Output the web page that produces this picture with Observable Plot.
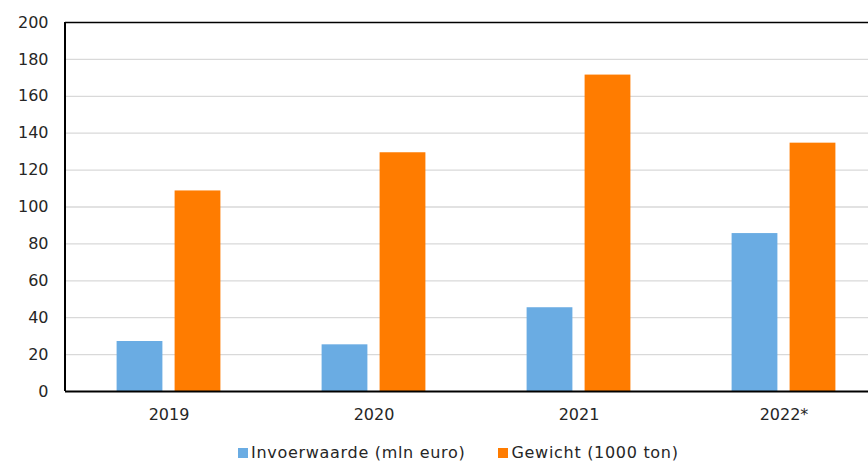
<!DOCTYPE html>
<html>
<head>
<meta charset="utf-8">
<script src="https://cdn.jsdelivr.net/npm/d3@7"></script>
<script src="https://cdn.jsdelivr.net/npm/@observablehq/plot@0.6"></script>
<style>
  html, body { margin: 0; padding: 0; background: #fff; overflow: hidden; }
  body { width: 868px; height: 463px; font-family: "DejaVu Sans", Verdana, sans-serif; }
  #legend { position: relative; height: 28px; padding-top: 4px; padding-left: 238px; display: flex; align-items: center; font-size: 16px; letter-spacing: 0.7px; color: #262626; line-height: 28px; }
  #legend .item { display: flex; align-items: center; }
  #legend .sw { width: 10px; height: 10px; margin-right: 3px; }
  #legend .item + .item { margin-left: 33px; }
</style>
</head>
<body>
<div id="chart"></div>
<div id="legend"></div>
<script>
const years = ["2019", "2020", "2021", "2022*"];
const invoerwaarde = [27.1, 25.3, 45.4, 85.6];
const gewicht = [108.7, 129.4, 171.5, 134.6];
const seriesNames = ["Invoerwaarde (mln euro)", "Gewicht (1000 ton)"];
const seriesColors = ["#6aace3", "#ff7c00"];
const yTicks = [0, 20, 40, 60, 80, 100, 120, 140, 160, 180, 200];

const blueData = years.map((y, i) => ({year: y, value: invoerwaarde[i]}));
const orangeData = years.map((y, i) => ({year: y, value: gewicht[i]}));

const W = 868, H = 435;
const leftLine = (index, scales, values, dims) => {
  const g = d3.create("svg:line")
    .attr("x1", dims.marginLeft).attr("x2", dims.marginLeft)
    .attr("y1", scales.y(200)).attr("y2", scales.y(0))
    .attr("stroke", "#000").attr("stroke-width", 2);
  return g.node();
};

const chart = Plot.plot({
  width: W,
  height: H,
  marginLeft: 65,
  marginRight: 0,
  marginTop: 22,
  marginBottom: 44,
  style: {fontFamily: "'DejaVu Sans', Verdana, sans-serif", fontSize: "16px", color: "#262626", background: "#fff", overflow: "hidden"},
  x: {domain: years, range: [65, 886], padding: 0, label: null, tickSize: 0, tickPadding: 17},
  y: {domain: [0, 200], range: [391, 22], ticks: yTicks, label: null, tickSize: 0, tickPadding: 17},
  marks: [
    Plot.gridY(yTicks.filter(d => d > 0 && d < 200), {stroke: "#d9d9d9", strokeOpacity: 1, strokeWidth: 1.3}),
    Plot.barY(blueData, {x: "year", y: "value", fill: seriesColors[0], insetLeft: 79.6, insetRight: 79.6, dx: -29}),
    Plot.barY(orangeData, {x: "year", y: "value", fill: seriesColors[1], insetLeft: 79.6, insetRight: 79.6, dx: 29}),
    Plot.ruleY([200], {stroke: "#000", strokeWidth: 1.5}),
    Plot.ruleY([0], {stroke: "#000", strokeWidth: 2}),
    leftLine
  ]
});
document.getElementById("chart").appendChild(chart);

const legend = document.getElementById("legend");
seriesNames.forEach((name, i) => {
  const item = document.createElement("div");
  item.className = "item";
  const sw = document.createElement("span");
  sw.className = "sw";
  sw.style.background = seriesColors[i];
  const t = document.createElement("span");
  t.textContent = name;
  item.appendChild(sw);
  item.appendChild(t);
  legend.appendChild(item);
});
</script>
</body>
</html>
